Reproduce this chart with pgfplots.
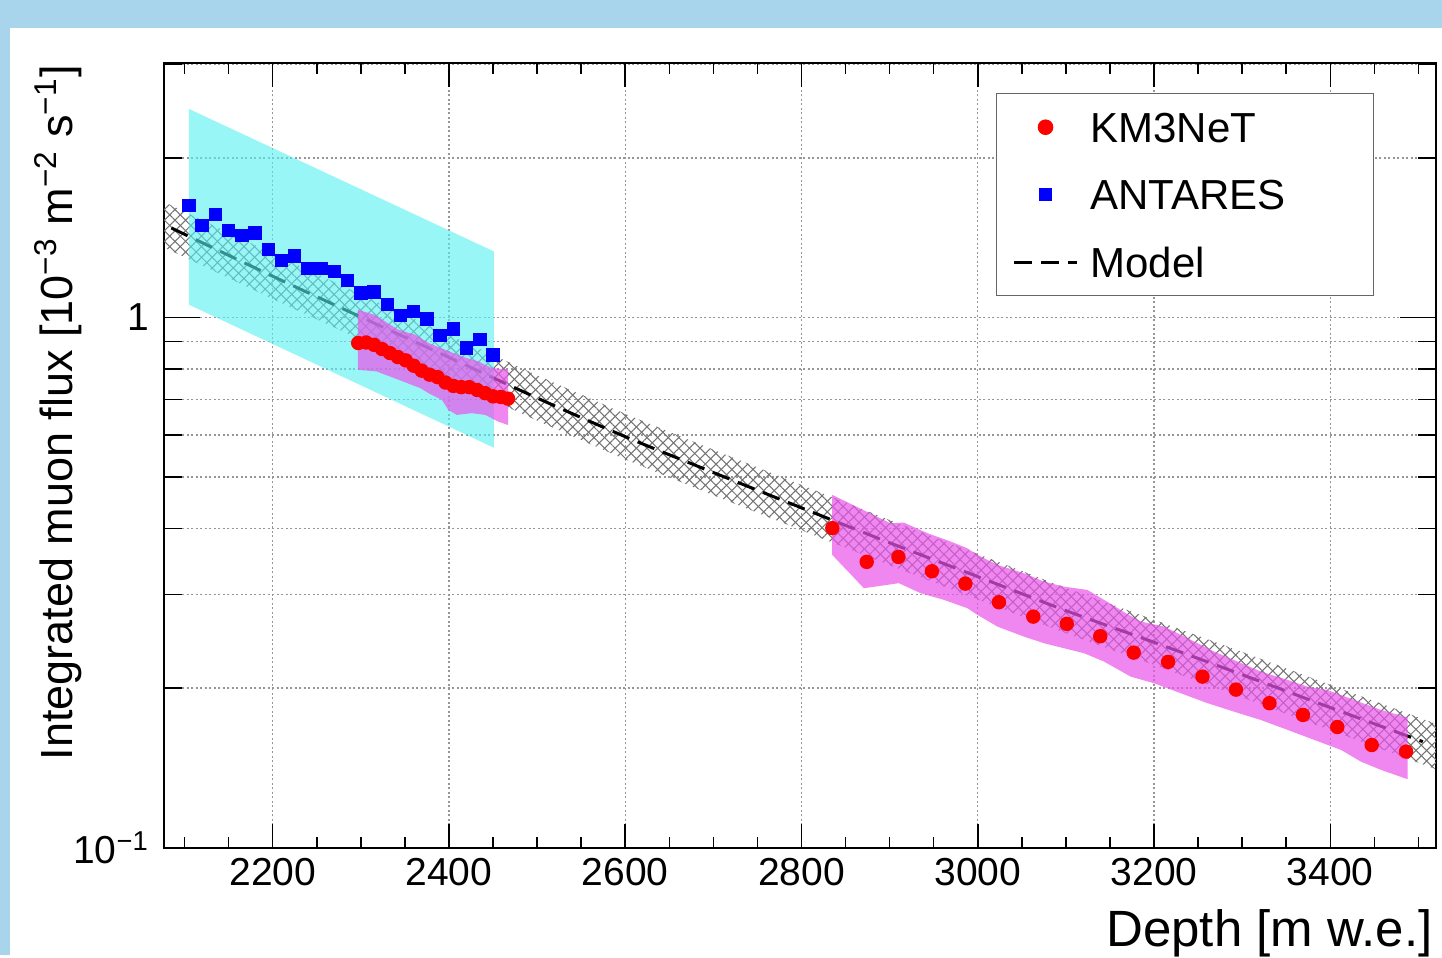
\documentclass[border=0pt]{standalone}
\usepackage{fontspec}
\setmainfont{Liberation Sans}
\usepackage{pgfplots}
\pgfplotsset{compat=1.18}
\usetikzlibrary{patterns.meta}
\definecolor{bgblue}{RGB}{168,213,235}
\definecolor{bandcyan}{RGB}{85,240,240}
\definecolor{bandpink}{RGB}{234,84,234}
\definecolor{gridgray}{RGB}{150,150,150}
\pgfplotsset{
  markleg/.style={legend image code/.code={\draw[##1] plot coordinates {(10.5pt,0pt)};}},
  lineleg/.style={legend image code/.code={\draw[##1] (0pt,0pt) -- (21pt,0pt);}},
}
\begin{document}
\begin{tikzpicture}
\fill[bgblue] (0,0) rectangle (480.67pt,318.33pt);
\fill[white] (3.33pt,0) rectangle (480.67pt,309.1pt);
\begin{axis}[
  at={(54.77pt,35.77pt)}, anchor=south west, scale only axis,
  width=423.9pt, height=261.57pt,
  ymode=log, xmin=2077, xmax=3520, ymin=0.1, ymax=3.02,
  xtick={2200,2400,2600,2800,3000,3200,3400},
  minor xtick={2100,2150,...,3500},
  ytick={0.1,1}, yticklabels={10\textsuperscript{−1},1},
  minor ytick={0.2,0.3,0.4,0.5,0.6,0.7,0.8,0.9,2,3},
  xmajorgrids, ymajorgrids, yminorgrids,
  major grid style={gridgray, line width=0.45pt, dash pattern=on 0.6pt off 0.9pt},
  minor grid style={gridgray, line width=0.45pt, dash pattern=on 0.6pt off 0.9pt},
  axis line style={line width=0.75pt},
  tick style={black, line width=0.5pt},
  xtick style={/pgfplots/major tick length=8pt,/pgfplots/minor tick length=3.7pt},
  ytick style={/pgfplots/major tick length=12pt,/pgfplots/minor tick length=6pt},
  ticklabel style={font=\fontsize{13}{15}\selectfont},
  yticklabel style={xshift=-1.5pt},
  /pgf/number format/1000 sep={},
  /pgf/number format/assume math mode=true,
  xlabel={Depth [m w.e.]},
  ylabel={Integrated muon flux [10\textsuperscript{−3} m\textsuperscript{−2} s\textsuperscript{−1}]},
  xlabel style={font=\fontsize{17}{20}\selectfont, at={(axis description cs:0.9976,-0.1262)}, anchor=base east, inner sep=0pt},
  ylabel style={font=\fontsize{15}{18}\selectfont, at={(axis description cs:-0.0725,0.9976)}, anchor=base east, inner sep=0pt},
  legend cell align=left,
  legend style={at={(0.654,0.9617)}, anchor=north west, draw=black!60, fill=white,
    inner xsep=5.3pt, inner ysep=6.2pt, row sep=12.5pt, column sep=4pt,
    font=\fontsize{14}{16}\selectfont,
    nodes={inner sep=0pt, text height=10pt, text depth=0pt}},
]
% legend images
\addlegendimage{only marks, mark=*, mark size=2.4pt, red, markleg}
\addlegendentry{\makebox[89pt][l]{KM3NeT}}
\addlegendimage{only marks, mark=square*, mark size=2.05pt, blue, markleg}
\addlegendentry{\makebox[89pt][l]{ANTARES}}
\addlegendimage{black, line width=1pt, dash pattern=on 6pt off 3pt, lineleg}
\addlegendentry{\makebox[89pt][l]{Model}}

% model uncertainty band (hatched)
\addplot[forget plot, draw=none, pattern={Lines[angle=45,distance=2.5pt,line width=0.35pt]}, pattern color=black!55] coordinates {
(2077,1.650) (2200,1.320) (2300,1.105) (2400,0.928) (2500,0.778) (2600,0.658) (2700,0.563) (2800,0.483) (2900,0.415) (3000,0.358) (3100,0.309) (3200,0.269) (3300,0.234) (3400,0.2028) (3520,0.1712)
(3520,0.1406) (3400,0.1666) (3300,0.1921) (3200,0.2211) (3100,0.2538) (3000,0.294) (2900,0.341) (2800,0.397) (2700,0.4622) (2600,0.540) (2500,0.639) (2400,0.762) (2300,0.908) (2200,1.084) (2077,1.355)};
\addplot[forget plot, draw=none, pattern={Lines[angle=-45,distance=2.5pt,line width=0.35pt]}, pattern color=black!55] coordinates {
(2077,1.650) (2200,1.320) (2300,1.105) (2400,0.928) (2500,0.778) (2600,0.658) (2700,0.563) (2800,0.483) (2900,0.415) (3000,0.358) (3100,0.309) (3200,0.269) (3300,0.234) (3400,0.2028) (3520,0.1712)
(3520,0.1406) (3400,0.1666) (3300,0.1921) (3200,0.2211) (3100,0.2538) (3000,0.294) (2900,0.341) (2800,0.397) (2700,0.4622) (2600,0.540) (2500,0.639) (2400,0.762) (2300,0.908) (2200,1.084) (2077,1.355)};
% model line
\addplot[forget plot, black, line width=1pt, dash pattern=on 6pt off 3pt, smooth] coordinates {
(2085,1.475) (2200,1.196) (2300,1.002) (2400,0.841) (2500,0.705) (2600,0.596) (2700,0.510) (2800,0.4375) (2900,0.376) (3000,0.3245) (3100,0.280) (3200,0.244) (3300,0.212) (3400,0.1838) (3505,0.1585)};

% ANTARES band
\addplot[forget plot, draw=none, fill=bandcyan, fill opacity=0.6] coordinates {
(2105,2.473) (2451,1.332) (2451,0.568) (2105,1.057)};

% KM3NeT (ORCA) band
\addplot[forget plot, draw=none, fill=bandpink, fill opacity=0.7] coordinates {
(2296.5,1.034) (2315.4,1.012) (2342.6,0.948) (2361.6,0.928) (2376.7,0.895) (2395.7,0.869) (2414.7,0.844) (2433.5,0.826) (2448.7,0.803) (2467,0.797)
(2467,0.627) (2456.2,0.636) (2441.1,0.655) (2426,0.660) (2409,0.655) (2399.4,0.669) (2392,0.699) (2376.7,0.720) (2367.3,0.736) (2357.9,0.746) (2348.3,0.757) (2327.5,0.780) (2318,0.791) (2296.5,0.797)};

% KM3NeT (ARCA) band
\addplot[forget plot, draw=none, fill=bandpink, fill opacity=0.7] coordinates {
(2834.9,0.4628) (2901.1,0.409) (2916.2,0.4104) (2942.8,0.392) (2969.2,0.378) (2988.2,0.367) (2999.6,0.3567) (3022.3,0.3415) (3052.5,0.3294) (3075.2,0.3175) (3097.9,0.3107) (3124.5,0.3063) (3143.3,0.2934) (3168,0.2769) (3185,0.267) (3211.5,0.2612) (3238,0.2484) (3268.3,0.2343) (3294.8,0.2244) (3321.3,0.2149) (3351.6,0.2072) (3374.3,0.2012) (3397,0.1983) (3427.3,0.1899) (3457.6,0.1819) (3487.9,0.1760)
(3487.9,0.1346) (3457.6,0.1402) (3434.9,0.1453) (3412.2,0.1529) (3381.8,0.1597) (3351.6,0.1668) (3321.3,0.1741) (3291,0.1805) (3260.8,0.1873) (3230.4,0.1956) (3200.1,0.2042) (3173.6,0.2102) (3143.3,0.2244) (3120.6,0.2327) (3097.9,0.2378) (3075.2,0.2430) (3052.5,0.2501) (3022.3,0.2612) (2999.6,0.2749) (2988.2,0.2829) (2961.6,0.2934) (2935.2,0.302) (2910.5,0.3154) (2870.8,0.3086) (2834.9,0.3567)};

% ANTARES points
\addplot[forget plot, only marks, mark=square*, mark size=2.05pt, blue] coordinates {
(2105,1.626) (2120,1.492) (2135,1.563) (2150,1.459) (2165,1.428) (2180,1.443) (2195,1.342) (2210,1.281) (2225,1.307) (2240,1.236) (2255,1.236) (2270,1.221) (2285,1.173) (2300,1.112) (2315,1.118) (2330,1.057) (2345,1.009) (2360,1.026) (2375,0.993) (2390,0.925) (2405,0.951) (2420,0.876) (2435,0.908) (2450,0.850)};

% KM3NeT points (ORCA)
\addplot[forget plot, only marks, mark=*, mark size=2.2pt, red] coordinates {
(2297,0.895) (2306,0.897) (2315,0.888) (2324,0.872) (2333,0.857) (2342,0.842) (2351,0.830) (2360,0.811) (2369,0.794) (2378,0.780) (2387,0.772) (2396,0.754) (2405,0.743) (2414,0.739) (2423,0.739) (2432,0.730) (2441,0.720) (2450,0.710) (2459,0.708) (2467,0.703)};
% KM3NeT points (ARCA)
\addplot[forget plot, only marks, mark=*, mark size=2.2pt, red] coordinates {
(2835,0.4006) (2874,0.346) (2910,0.3535) (2948,0.3322) (2986,0.3148) (3024,0.2904) (3063,0.2728) (3101,0.2643) (3139,0.2505) (3177,0.2333) (3216,0.2241) (3255,0.2102) (3293,0.1987) (3331,0.1873) (3369,0.178) (3408,0.1689) (3447,0.1562) (3486,0.1518)};
\end{axis}
\end{tikzpicture}
\end{document}
